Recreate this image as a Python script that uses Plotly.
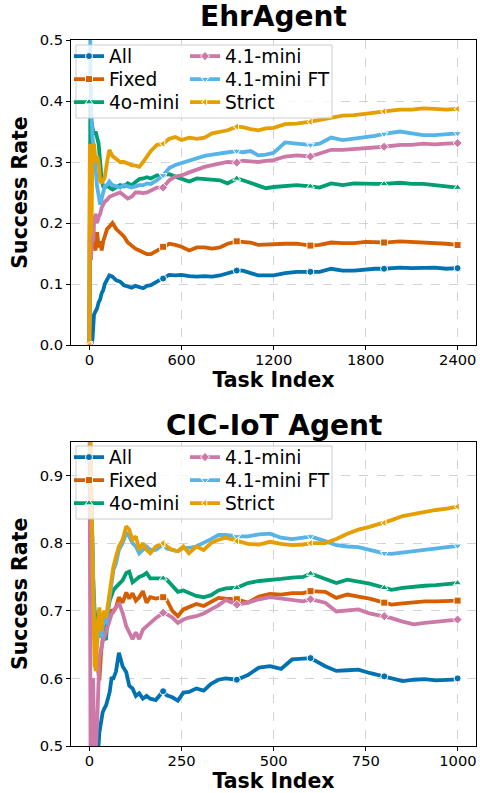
import plotly.graph_objects as go

# ---------------- data ----------------
SERIES_NAMES = ["All", "Fixed", "4o-mini", "4.1-mini", "4.1-mini FT", "Strict"]

# EhrAgent panel
TASK_EHR = [0, 3, 6, 10, 15, 20, 25, 30,
            40, 50, 60, 70, 80, 90, 100,
            115, 130, 150, 175, 200,
            225, 250, 275, 300, 325, 350, 375, 400,
            440, 480, 520, 560, 600,
            650, 700, 750, 800, 850, 900,
            960, 1000, 1050, 1100, 1150, 1200,
            1275, 1350, 1440, 1500, 1575, 1650, 1725, 1800,
            1860, 1920, 2025, 2100, 2175, 2250, 2325, 2399]

EHR_ALL = [0.0, 0.0, 0.0, 0.0, 0.0, 0.01, 0.04, 0.05,
           0.055, 0.06, 0.07, 0.075, 0.085, 0.09, 0.1,
           0.108, 0.114, 0.112, 0.106, 0.104,
           0.098, 0.096, 0.094, 0.097, 0.095, 0.093, 0.097, 0.098,
           0.104, 0.109, 0.115, 0.114, 0.115,
           0.113, 0.112, 0.113, 0.112, 0.114, 0.117,
           0.122, 0.122, 0.118, 0.114, 0.114, 0.114,
           0.118, 0.12, 0.12, 0.12, 0.125, 0.122, 0.122, 0.124,
           0.125, 0.125, 0.127, 0.126, 0.126, 0.127, 0.125, 0.126]

EHR_FIXED = [0.0, 0.33, 0.25, 0.14, 0.2, 0.17, 0.19, 0.165,
             0.155, 0.185, 0.16, 0.17, 0.155, 0.17, 0.18,
             0.19, 0.194, 0.2, 0.19, 0.183,
             0.178, 0.168, 0.162, 0.158, 0.155, 0.152, 0.149, 0.149,
             0.155, 0.161, 0.166, 0.164, 0.161,
             0.155, 0.16, 0.16, 0.158, 0.16, 0.166,
             0.17, 0.169, 0.168, 0.164, 0.165, 0.166,
             0.166, 0.166, 0.163, 0.164, 0.168, 0.167, 0.167, 0.169,
             0.168, 0.168, 0.17, 0.169, 0.169, 0.167, 0.166, 0.164]

EHR_4O = [0.0, 0.33, 0.4, 0.37, 0.36, 0.35, 0.35, 0.345,
          0.35, 0.34, 0.33, 0.3, 0.27, 0.26, 0.258,
          0.262, 0.258, 0.255, 0.258, 0.262,
          0.26, 0.265, 0.262, 0.268, 0.272, 0.273, 0.275, 0.273,
          0.278, 0.278, 0.28, 0.276, 0.272,
          0.268, 0.273, 0.272, 0.27, 0.27, 0.265,
          0.273, 0.27, 0.266, 0.262, 0.257, 0.259,
          0.26, 0.262, 0.26, 0.258, 0.265, 0.262, 0.265, 0.264,
          0.264, 0.264, 0.266, 0.264, 0.264, 0.262, 0.26, 0.258]

EHR_41 = [0.0, 0.25, 0.19, 0.14, 0.16, 0.19, 0.17, 0.2,
          0.215, 0.2, 0.21, 0.215, 0.225, 0.232, 0.235,
          0.238, 0.243, 0.245, 0.248, 0.25,
          0.245, 0.24, 0.243, 0.25, 0.25, 0.249, 0.25, 0.253,
          0.258, 0.258, 0.27, 0.276, 0.278,
          0.283, 0.288, 0.292, 0.295, 0.298, 0.3,
          0.299, 0.302, 0.301, 0.3, 0.302, 0.303,
          0.309, 0.311, 0.309, 0.314, 0.32, 0.32, 0.321, 0.322,
          0.323, 0.325, 0.328, 0.328, 0.33, 0.329, 0.33, 0.331]

EHR_41FT = [1.0, 0.5, 0.45, 0.4, 0.36, 0.34, 0.33, 0.32,
            0.29, 0.26, 0.245, 0.23, 0.24, 0.25, 0.26,
            0.262, 0.268, 0.262, 0.26, 0.258,
            0.262, 0.26, 0.258, 0.26, 0.262, 0.262, 0.265, 0.264,
            0.27, 0.278, 0.29, 0.295, 0.298,
            0.302, 0.306, 0.31, 0.312, 0.314, 0.316,
            0.318, 0.316, 0.318, 0.311, 0.312, 0.315,
            0.332, 0.33, 0.328, 0.33, 0.34, 0.336, 0.338, 0.34,
            0.343, 0.346, 0.35, 0.347, 0.344, 0.344, 0.345, 0.347]

EHR_STRICT = [0.0, 0.33, 0.25, 0.18, 0.22, 0.32, 0.3, 0.33,
              0.3, 0.31, 0.3, 0.27, 0.265, 0.27, 0.275,
              0.3, 0.32, 0.31, 0.305, 0.3,
              0.3, 0.297, 0.295, 0.294, 0.292, 0.3, 0.308, 0.318,
              0.328, 0.33, 0.338, 0.341, 0.336,
              0.34, 0.338, 0.34, 0.347, 0.35, 0.352,
              0.358, 0.357, 0.354, 0.352, 0.355, 0.356,
              0.362, 0.363, 0.366, 0.369, 0.372, 0.376, 0.377, 0.38,
              0.381, 0.383, 0.386, 0.386, 0.388, 0.387, 0.386, 0.387]

# CIC-IoT Agent panel
TASK_CIC = [0, 3, 6, 10, 14, 18, 22, 27,
            32, 36, 40, 45, 50, 55, 60,
            65, 72, 80, 90, 100,
            108, 117, 126, 135, 145, 155, 165, 180,
            200, 210, 225, 240, 255,
            270, 290, 310, 330, 350, 370,
            400, 430, 460, 490, 520, 550,
            580, 600, 640, 670, 700, 730, 760, 800,
            820, 850, 880, 910, 940, 970, 985, 999]

CIC_ALL = [0.0, 0.0, 0.0, 0.1, 0.3, 0.4, 0.48, 0.52,
           0.54, 0.55, 0.555, 0.56, 0.57, 0.58, 0.6,
           0.6, 0.61, 0.638, 0.618, 0.609,
           0.589, 0.585, 0.574, 0.578, 0.57, 0.574, 0.57, 0.568,
           0.581, 0.575, 0.572, 0.567, 0.579,
           0.58, 0.585, 0.582, 0.592, 0.598, 0.6,
           0.598, 0.605, 0.616, 0.618, 0.614, 0.628,
           0.629, 0.63, 0.618, 0.611, 0.612, 0.613, 0.608, 0.603,
           0.6, 0.596, 0.598, 0.599, 0.597, 0.597, 0.598, 0.6]

CIC_FIXED = [1.0, 0.9, 0.8, 0.72, 0.66, 0.63, 0.62, 0.597,
             0.64, 0.66, 0.675, 0.68, 0.69, 0.698, 0.7,
             0.7, 0.705, 0.72, 0.712, 0.727,
             0.718, 0.726, 0.715, 0.72, 0.729, 0.712, 0.72, 0.718,
             0.72, 0.716, 0.7, 0.692, 0.702,
             0.705, 0.71, 0.707, 0.713, 0.719, 0.718,
             0.717, 0.712, 0.721, 0.725, 0.724, 0.726,
             0.726, 0.729, 0.728, 0.719, 0.724, 0.721, 0.718, 0.712,
             0.709, 0.711, 0.713, 0.714, 0.714, 0.714, 0.714, 0.715]

CIC_4O = [1.0, 0.9, 0.8, 0.75, 0.7, 0.68, 0.67, 0.69,
          0.66, 0.675, 0.66, 0.657, 0.7, 0.715, 0.725,
          0.73, 0.735, 0.74, 0.745, 0.756,
          0.758, 0.742, 0.746, 0.75, 0.752, 0.756, 0.748, 0.748,
          0.748, 0.746, 0.736, 0.728, 0.73,
          0.727, 0.722, 0.72, 0.723, 0.73, 0.733,
          0.734, 0.741, 0.744, 0.745, 0.747, 0.749,
          0.75, 0.755, 0.747, 0.741, 0.746, 0.743, 0.74, 0.734,
          0.731, 0.734, 0.736, 0.737, 0.738, 0.739, 0.74, 0.741]

CIC_41 = [1.0, 0.5, 0.45, 0.6, 0.45, 0.52, 0.55, 0.63,
          0.648, 0.655, 0.66, 0.668, 0.675, 0.685, 0.695,
          0.698, 0.705, 0.712, 0.697, 0.677,
          0.668, 0.658, 0.668, 0.658, 0.672, 0.677, 0.682, 0.689,
          0.697, 0.695, 0.69, 0.682, 0.687,
          0.69, 0.692, 0.696, 0.702, 0.708, 0.716,
          0.709, 0.712, 0.717, 0.72, 0.718, 0.716,
          0.714, 0.717, 0.712, 0.699, 0.701, 0.702, 0.696, 0.692,
          0.689, 0.684, 0.68, 0.682, 0.684, 0.685, 0.686, 0.687]

CIC_41FT = [1.0, 0.92, 0.85, 0.75, 0.66, 0.64, 0.66, 0.68,
            0.66, 0.68, 0.69, 0.68, 0.7, 0.72, 0.74,
            0.76, 0.77, 0.79, 0.8, 0.815,
            0.81, 0.8, 0.795, 0.785, 0.79, 0.795, 0.79, 0.79,
            0.798, 0.792, 0.79, 0.788, 0.793,
            0.793, 0.795, 0.8, 0.806, 0.812, 0.812,
            0.81, 0.81, 0.813, 0.814, 0.808, 0.806,
            0.808, 0.81, 0.803, 0.797, 0.795, 0.794, 0.79, 0.785,
            0.784, 0.786, 0.788, 0.791, 0.793, 0.795, 0.795, 0.796]

CIC_STRICT = [1.0, 0.95, 0.85, 0.72, 0.62, 0.611, 0.68, 0.705,
              0.67, 0.69, 0.7, 0.69, 0.71, 0.727, 0.75,
              0.765, 0.78, 0.795, 0.805, 0.825,
              0.82, 0.805, 0.81, 0.79, 0.8, 0.79, 0.785, 0.795,
              0.8, 0.795, 0.79, 0.788, 0.795,
              0.785, 0.795, 0.79, 0.8, 0.805, 0.808,
              0.803, 0.799, 0.798, 0.802, 0.799, 0.797,
              0.798, 0.8, 0.8, 0.806, 0.814, 0.82, 0.824, 0.83,
              0.834, 0.84, 0.843, 0.847, 0.849, 0.851, 0.852, 0.854]

EHR_MARK_AT = [0, 480, 960, 1440, 1920, 2399]
CIC_MARK_AT = [0, 200, 400, 600, 800, 999]

EHR_X_TICKS = [0, 600, 1200, 1800, 2400]
EHR_X_LABELS = ["0", "600", "1200", "1800", "2400"]
EHR_Y_TICKS = [0.0, 0.1, 0.2, 0.3, 0.4, 0.5]
EHR_Y_LABELS = ["0.0", "0.1", "0.2", "0.3", "0.4", "0.5"]
CIC_X_TICKS = [0, 250, 500, 750, 1000]
CIC_X_LABELS = ["0", "250", "500", "750", "1000"]
CIC_Y_TICKS = [0.5, 0.6, 0.7, 0.8, 0.9]
CIC_Y_LABELS = ["0.5", "0.6", "0.7", "0.8", "0.9"]

PANEL_TITLES = ["EhrAgent", "CIC-IoT Agent"]
X_TITLE = "Task Index"
Y_TITLE = "Success Rate"

# ---------------- styling ----------------
W, H = 480, 793
ML, MR, MT, MB = 71, 4, 40, 47
PW = W - ML - MR
PH = H - MT - MB
FONT = "DejaVu Sans"
COLORS = ["#0072B2", "#D55E00", "#009E73", "#CC79A7", "#56B4E9", "#E69F00"]
SYMBOLS = ["circle", "square", "triangle-up", "diamond", "triangle-down", "triangle-left"]


def px_x(px):
    return (px - ML) / PW


def px_y(py):
    return (H - MB - py) / PH


panels = [
    dict(x=TASK_EHR, ys=[EHR_ALL, EHR_FIXED, EHR_4O, EHR_41, EHR_41FT, EHR_STRICT],
         marks=EHR_MARK_AT, xa="x", ya="y", legend_top=56.5),
    dict(x=TASK_CIC, ys=[CIC_ALL, CIC_FIXED, CIC_4O, CIC_41, CIC_41FT, CIC_STRICT],
         marks=CIC_MARK_AT, xa="x2", ya="y2", legend_top=457.5),
]

fig = go.Figure()
layout_legends = {}
leg_n = 0
for p in panels:
    sel = [p["x"].index(t) for t in p["marks"]]
    for k, (name, ys) in enumerate(zip(SERIES_NAMES, p["ys"])):
        assert len(ys) == len(p["x"]), (name, len(ys), len(p["x"]))
        leg_n += 1
        lname = "legend" if leg_n == 1 else f"legend{leg_n}"
        col, row = k // 3, k % 3
        fig.add_trace(go.Scatter(
            x=p["x"], y=ys, name=name, mode="lines+markers",
            xaxis=p["xa"], yaxis=p["ya"], legend=lname, showlegend=True,
            line=dict(color=COLORS[k], width=3.8),
            marker=dict(symbol=SYMBOLS[k], size=7, color=COLORS[k],
                        line=dict(color="white", width=1)),
            selectedpoints=sel,
            selected=dict(marker=dict(opacity=1)),
            unselected=dict(marker=dict(opacity=0)),
        ))
        layout_legends[lname] = dict(
            xref="paper", yref="paper",
            x=px_x(69 + col * 116), y=px_y(p["legend_top"] + row * 23),
            xanchor="left", yanchor="middle",
            bgcolor="rgba(0,0,0,0)", borderwidth=0,
            font=dict(family=FONT, size=18.6, color="#000"),
            itemwidth=30, visible=True,
        )

axis_common = dict(
    showline=True, linecolor="#000", linewidth=1, mirror=True,
    ticks="outside", ticklen=4, tickwidth=1, tickcolor="#000",
    showgrid=True, gridcolor="#d3d3d3", griddash="dash", gridwidth=0.8,
    zeroline=False, automargin=False, tickangle=0,
    tickfont=dict(family=FONT, size=14.7, color="#000"),
)
title_font = dict(family=FONT, size=20.5, color="#000")

top_dom = [px_y(345), 1.0]
bot_dom = [0.0, px_y(441.7)]

fig.update_layout(
    width=W, height=H, showlegend=True,
    margin=dict(l=ML, r=MR, t=MT, b=MB, autoexpand=False),
    paper_bgcolor="white", plot_bgcolor="white",
    xaxis=dict(axis_common, domain=[0, 1], anchor="y", range=[-120, 2519],
               tickmode="array", tickvals=EHR_X_TICKS, ticktext=EHR_X_LABELS,
               ticklabelstandoff=-3,
               title=dict(text=f"<b>{X_TITLE}</b>", font=title_font, standoff=5)),
    yaxis=dict(axis_common, domain=top_dom, anchor="x", range=[0, 0.5],
               tickmode="array", tickvals=EHR_Y_TICKS, ticktext=EHR_Y_LABELS,
               title=dict(text=f"<b>{Y_TITLE}</b>", font=title_font, standoff=6)),
    xaxis2=dict(axis_common, domain=[0, 1], anchor="y2", range=[-50, 1049],
                tickmode="array", tickvals=CIC_X_TICKS, ticktext=CIC_X_LABELS,
                ticklabelstandoff=-3,
                title=dict(text=f"<b>{X_TITLE}</b>", font=title_font, standoff=5)),
    yaxis2=dict(axis_common, domain=bot_dom, anchor="x2", range=[0.5, 0.95],
                tickmode="array", tickvals=CIC_Y_TICKS, ticktext=CIC_Y_LABELS,
                title=dict(text=f"<b>{Y_TITLE}</b>", font=title_font, standoff=6)),
    **layout_legends,
)

# panel titles
for title, cy in zip(PANEL_TITLES, [17, 425]):
    fig.add_annotation(text=f"<b>{title}</b>", xref="paper", yref="paper",
                       x=0.5, y=px_y(cy), xanchor="center", yanchor="middle",
                       showarrow=False, font=dict(family=FONT, size=28, color="#000"))

# legend frames (matplotlib-style translucent box)
for f_top, f_bot in [(45, 118), (446, 519)]:
    fig.add_shape(type="rect", xref="paper", yref="paper", layer="above",
                  x0=px_x(76), x1=px_x(332), y0=px_y(f_bot), y1=px_y(f_top),
                  line=dict(color="#cccccc", width=1),
                  fillcolor="rgba(255,255,255,0.8)")

fig.write_html("out.html", config={"displayModeBar": False},
               post_script="document.body.style.margin='0';")
